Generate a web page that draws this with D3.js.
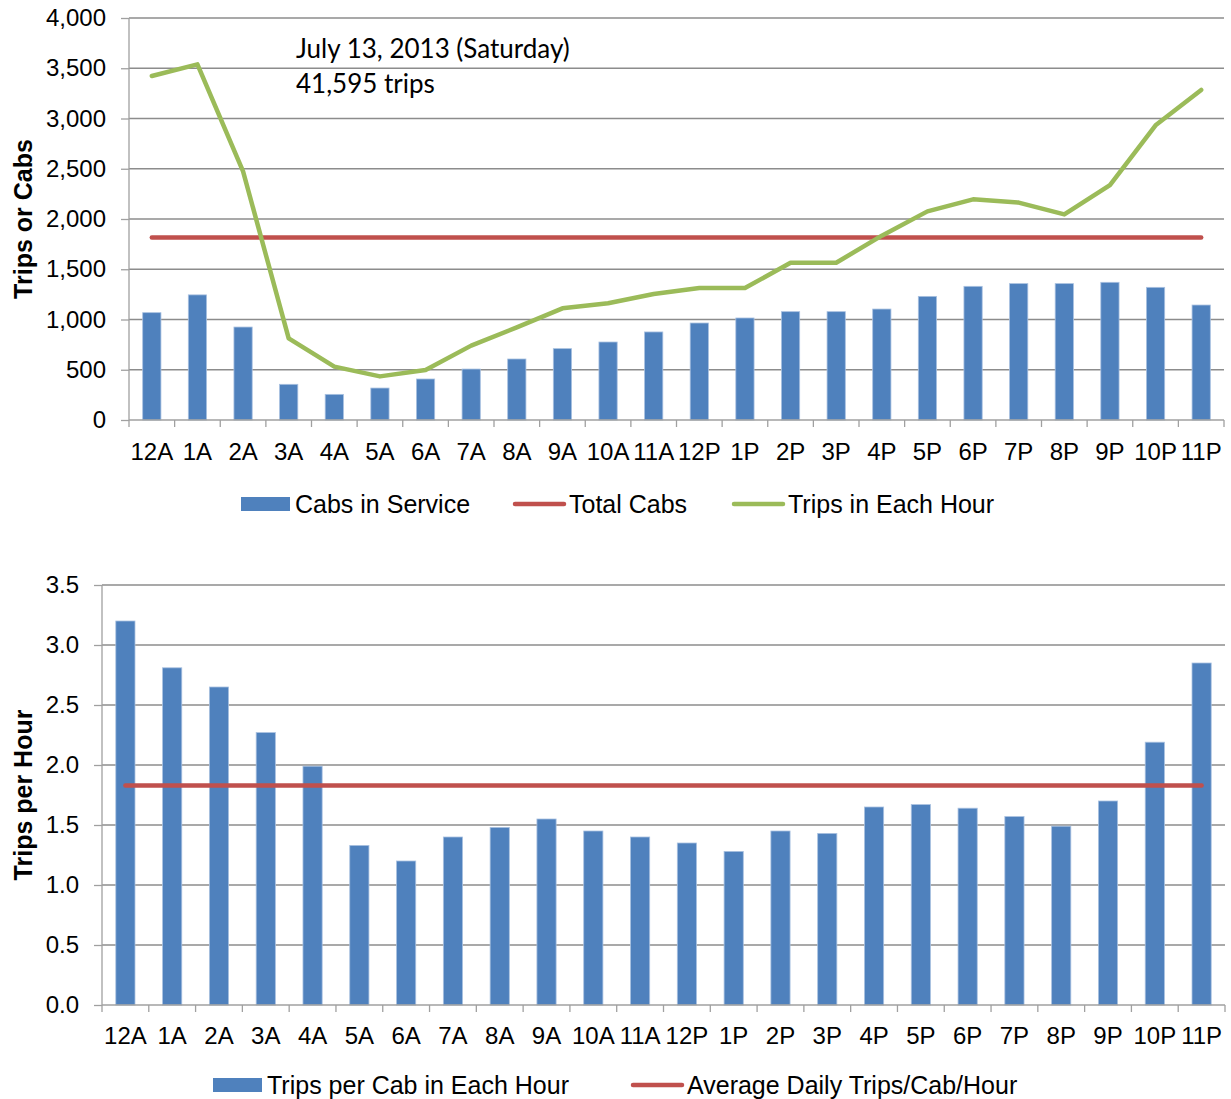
<!DOCTYPE html>
<html>
<head>
<meta charset="utf-8">
<script src="https://d3js.org/d3.v7.min.js"></script>
<style>
body { margin: 0; background: #fff; }
text { font-family: "Liberation Sans", Arial, sans-serif; fill: #000; }
.grid line { stroke: #8c8c8c; stroke-width: 1.3; }
.axis path, .axis line { stroke: #a0a0a0; stroke-width: 1.3; }
.axis text { font-size: 24px; }
.ytitle { font-size: 25px; font-weight: bold; }
.legend text { font-size: 25px; }
.note { font-family: Lato, "Open Sans", sans-serif; font-size: 26px; }
</style>
</head>
<body>
<div id="chart"></div>
<script>
var hours = ["12A","1A","2A","3A","4A","5A","6A","7A","8A","9A","10A","11A",
             "12P","1P","2P","3P","4P","5P","6P","7P","8P","9P","10P","11P"];

// top chart
var cabsInService = [1068,1245,925,355,255,318,408,507,607,710,776,876,
                     965,1015,1078,1078,1104,1230,1330,1357,1357,1370,1320,1144];
var tripsEachHour = [3423,3539,2474,813,531,434,498,740,922,1111,1161,1254,
                     1313,1313,1565,1565,1834,2076,2196,2163,2046,2338,2932,3284];
var totalCabs = 1815;
var topTicks = [0,500,1000,1500,2000,2500,3000,3500,4000];

// bottom chart
var tripsPerCab = [3.20,2.81,2.65,2.27,1.99,1.33,1.20,1.40,1.48,1.55,1.45,1.40,
                   1.35,1.28,1.45,1.43,1.65,1.67,1.64,1.57,1.49,1.70,2.19,2.85];
var avgTripsPerCab = 1.83;
var bottomTicks = [0,0.5,1,1.5,2,2.5,3,3.5];

var blue = "#4f81bd", red = "#c0504d", green = "#9bbb59";

var svg = d3.select("#chart").append("svg")
    .attr("width", 1231).attr("height", 1099);

function drawChart(o) {
  var g = svg.append("g");
  var x = d3.scaleBand().domain(hours).range([o.left, o.right]);
  var y = d3.scaleLinear().domain(o.domain).range([o.bottom, o.top]);

  g.append("g").attr("class", "grid")
    .selectAll("line").data(o.ticks.slice(1)).enter().append("line")
    .attr("x1", o.left).attr("x2", o.right)
    .attr("y1", function(d) { return y(d); }).attr("y2", function(d) { return y(d); });

  var bw = x.bandwidth() * o.barFrac;
  g.selectAll("rect").data(o.bars).enter().append("rect")
    .attr("x", function(d, i) { return x(hours[i]) + (x.bandwidth() - bw) / 2; })
    .attr("y", function(d) { return y(d); })
    .attr("width", bw)
    .attr("height", function(d) { return o.bottom - y(d); })
    .attr("fill", blue).attr("stroke", "#a9c1e0").attr("stroke-width", 0.8);

  var cx = function(i) { return x(hours[i]) + x.bandwidth() / 2; };

  g.append("line")
    .attr("x1", cx(0)).attr("x2", cx(hours.length - 1))
    .attr("y1", y(o.ref)).attr("y2", y(o.ref))
    .attr("stroke", red).attr("stroke-width", 4.5).attr("stroke-linecap", "round");

  if (o.line) {
    g.append("path").datum(o.line)
      .attr("d", d3.line().x(function(d, i) { return cx(i); }).y(function(d) { return y(d); }))
      .attr("fill", "none").attr("stroke", green).attr("stroke-width", 4.5)
      .attr("stroke-linecap", "round").attr("stroke-linejoin", "round");
  }

  // y axis
  var ya = g.append("g").attr("class", "axis")
    .attr("transform", "translate(" + o.left + ",0)")
    .call(d3.axisLeft(y).tickValues(o.ticks).tickFormat(o.fmt).tickSize(8).tickSizeOuter(0).tickPadding(15));
  ya.select(".domain").attr("d", "M0," + o.bottom + "V" + o.top);

  // x axis: ticks at category boundaries
  var xa = g.append("g").attr("class", "axis")
    .attr("transform", "translate(0," + o.bottom + ")");
  xa.append("line").attr("x1", o.left).attr("x2", o.right);
  xa.selectAll(".tk").data(d3.range(hours.length + 1)).enter().append("line")
    .attr("x1", function(i) { return o.left + i * x.step(); })
    .attr("x2", function(i) { return o.left + i * x.step(); })
    .attr("y1", 0).attr("y2", 7);
  xa.selectAll("text").data(hours).enter().append("text")
    .attr("x", function(d) { return x(d) + x.bandwidth() / 2; })
    .attr("y", o.labelDy).attr("text-anchor", "middle").text(function(d) { return d; });

  g.append("text").attr("class", "ytitle")
    .attr("transform", "translate(" + o.titleX + "," + ((o.top + o.bottom) / 2) + ") rotate(-90)")
    .attr("text-anchor", "middle").text(o.title);

  // legend
  var lg = g.append("g").attr("class", "legend");
  o.legend.forEach(function(it) {
    if (it.type == "bar") {
      lg.append("rect").attr("x", it.x).attr("y", o.legendY - 7).attr("width", 49).attr("height", 14).attr("fill", blue);
      lg.append("text").attr("x", it.x + 54).attr("y", o.legendY + 9).text(it.label);
    } else {
      lg.append("line").attr("x1", it.x + 2).attr("x2", it.x + 51)
        .attr("y1", o.legendY).attr("y2", o.legendY)
        .attr("stroke", it.color).attr("stroke-width", 4.5).attr("stroke-linecap", "round");
      lg.append("text").attr("x", it.x + 56).attr("y", o.legendY + 9).text(it.label);
    }
  });
  return { x: x, y: y };
}

drawChart({
  left: 129, right: 1224, top: 18, bottom: 420,
  domain: [0, 4000], ticks: topTicks, fmt: d3.format(","),
  bars: cabsInService, line: tripsEachHour, ref: totalCabs, barFrac: 0.40,
  title: "Trips or Cabs", titleX: 32, labelDy: 40,
  legendY: 504,
  legend: [
    { type: "bar", x: 241, label: "Cabs in Service" },
    { type: "line", x: 513, color: red, label: "Total Cabs" },
    { type: "line", x: 732, color: green, label: "Trips in Each Hour" }
  ]
});

drawChart({
  left: 102, right: 1225, top: 585, bottom: 1005,
  domain: [0, 3.5], ticks: bottomTicks, fmt: d3.format(".1f"),
  bars: tripsPerCab, line: null, ref: avgTripsPerCab, barFrac: 0.41,
  title: "Trips per Hour", titleX: 32, labelDy: 39,
  legendY: 1085,
  legend: [
    { type: "bar", x: 213, label: "Trips per Cab  in Each Hour" },
    { type: "line", x: 631, color: red, label: "Average Daily Trips/Cab/Hour" }
  ]
});

svg.append("text").attr("class", "note").attr("x", 296).attr("y", 58).text("July 13, 2013 (Saturday)");
svg.append("text").attr("class", "note").attr("x", 296).attr("y", 93).text("41,595 trips");
</script>
</body>
</html>
